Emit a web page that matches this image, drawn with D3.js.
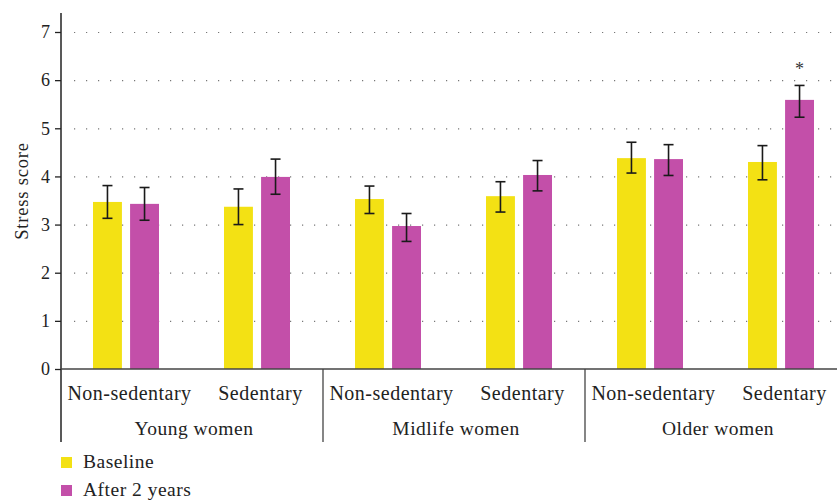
<!DOCTYPE html>
<html>
<head>
<meta charset="utf-8">
<script src="https://d3js.org/d3.v7.min.js"></script>
<style>
  body { margin: 0; background: #fff; }
  svg text { font-family: "Liberation Serif", "DejaVu Serif", serif; }
</style>
</head>
<body>
<div id="chart"></div>
<script>
// groups, subgroups and series
var groups = ["Young women", "Midlife women", "Older women"];
var subgroups = ["Non-sedentary", "Sedentary"];
var series = ["Baseline", "After 2 years"];
var colors = ["#f3e114", "#c34fa9"];

// mean stress scores per group
var baselineNS = [3.47, 3.53, 4.38];
var afterNS    = [3.43, 2.97, 4.36];
var baselineS  = [3.37, 3.59, 4.30];
var afterS     = [3.99, 4.03, 5.59];

// error bar lows / highs
var lowBaselineNS  = [3.13, 3.23, 4.07];
var highBaselineNS = [3.81, 3.80, 4.71];
var lowAfterNS     = [3.09, 2.65, 4.02];
var highAfterNS    = [3.77, 3.23, 4.66];
var lowBaselineS   = [3.00, 3.26, 3.93];
var highBaselineS  = [3.74, 3.89, 4.64];
var lowAfterS      = [3.63, 3.70, 5.23];
var highAfterS     = [4.36, 4.33, 5.89];

var yTicks = [0, 1, 2, 3, 4, 5, 6, 7];

// build a flat table for the bars
var data = [];
groups.forEach(function(g, i) {
    data.push({group: g, sub: "Non-sedentary", series: "Baseline", value: baselineNS[i], lo: lowBaselineNS[i], hi: highBaselineNS[i]});
    data.push({group: g, sub: "Non-sedentary", series: "After 2 years", value: afterNS[i], lo: lowAfterNS[i], hi: highAfterNS[i]});
    data.push({group: g, sub: "Sedentary", series: "Baseline", value: baselineS[i], lo: lowBaselineS[i], hi: highBaselineS[i]});
    data.push({group: g, sub: "Sedentary", series: "After 2 years", value: afterS[i], lo: lowAfterS[i], hi: highAfterS[i], star: g == "Older women"});
});

var W = 837, H = 500;
var margin = {top: 13, left: 61};
var plotRight = 847, plotBottom = 369;

var svg = d3.select("#chart").append("svg")
    .attr("width", W)
    .attr("height", H);

var x0 = d3.scaleBand().domain(groups).range([margin.left, plotRight]);
var x1 = d3.scaleBand().domain(subgroups).range([0, x0.bandwidth()]);
var x2 = d3.scaleBand().domain(series).range([32, 98]).paddingInner(0.22);
var y = d3.scaleLinear().domain([0, 7]).range([plotBottom, 32]);
var color = d3.scaleOrdinal().domain(series).range(colors);

// dotted gridlines
svg.append("g")
    .selectAll("line")
    .data(yTicks.slice(1))
    .enter().append("line")
    .attr("x1", margin.left + 13)
    .attr("x2", plotRight)
    .attr("y1", function(d) { return y(d) + 0.5; })
    .attr("y2", function(d) { return y(d) + 0.5; })
    .attr("stroke", "#777")
    .attr("stroke-width", 1.2)
    .attr("stroke-dasharray", "1.2,10.8");

// bars
function barX(d) { return x0(d.group) + x1(d.sub) + x2(d.series); }

svg.append("g")
    .selectAll("rect")
    .data(data)
    .enter().append("rect")
    .attr("x", barX)
    .attr("y", function(d) { return y(d.value); })
    .attr("width", x2.bandwidth())
    .attr("height", function(d) { return y(0) - y(d.value); })
    .attr("fill", function(d) { return color(d.series); });

// error bars
var eb = svg.append("g")
    .attr("stroke", "#1a1a1a")
    .attr("stroke-width", 1.6)
    .selectAll("g")
    .data(data)
    .enter().append("g")
    .attr("transform", function(d) { return "translate(" + (barX(d) + x2.bandwidth() / 2) + ",0)"; });
eb.append("line")
    .attr("y1", function(d) { return y(d.lo); })
    .attr("y2", function(d) { return y(d.hi); });
eb.append("line")
    .attr("x1", -5).attr("x2", 5)
    .attr("y1", function(d) { return y(d.lo); })
    .attr("y2", function(d) { return y(d.lo); });
eb.append("line")
    .attr("x1", -5).attr("x2", 5)
    .attr("y1", function(d) { return y(d.hi); })
    .attr("y2", function(d) { return y(d.hi); });

// significance mark
svg.append("g")
    .selectAll("text")
    .data(data.filter(function(d) { return d.star; }))
    .enter().append("text")
    .attr("x", function(d) { return barX(d) + x2.bandwidth() / 2; })
    .attr("y", function(d) { return y(d.hi) - 10; })
    .attr("text-anchor", "middle")
    .style("font-size", "18px")
    .attr("fill", "#333")
    .text("*");

// y axis
var yAxis = svg.append("g")
    .attr("transform", "translate(" + margin.left + ",0)")
    .call(d3.axisLeft(y).tickValues(yTicks).tickFormat(d3.format("d")).tickSize(6).tickPadding(5));
yAxis.attr("font-family", null).attr("font-size", null);
yAxis.select(".domain").remove();
yAxis.selectAll(".tick line").attr("stroke", "#222").attr("stroke-width", 1.3);
yAxis.selectAll("text").style("font-size", "18px").attr("fill", "#222");
svg.append("line")
    .attr("x1", margin.left).attr("x2", margin.left)
    .attr("y1", margin.top).attr("y2", 442)
    .attr("stroke", "#222").attr("stroke-width", 1.5);

// x axis baseline
svg.append("line")
    .attr("x1", margin.left).attr("x2", plotRight)
    .attr("y1", plotBottom).attr("y2", plotBottom)
    .attr("stroke", "#444").attr("stroke-width", 1.5);

// group dividers
svg.append("g")
    .selectAll("line")
    .data(groups.slice(1))
    .enter().append("line")
    .attr("x1", function(d) { return x0(d); })
    .attr("x2", function(d) { return x0(d); })
    .attr("y1", plotBottom).attr("y2", 442)
    .attr("stroke", "#444").attr("stroke-width", 1.3);

// subgroup labels
var subLabels = [];
groups.forEach(function(g) { subgroups.forEach(function(s) { subLabels.push({group: g, sub: s}); }); });
svg.append("g")
    .selectAll("text")
    .data(subLabels)
    .enter().append("text")
    .attr("x", function(d) { return x0(d.group) + x1(d.sub) + x1.bandwidth() / 2 + 3; })
    .attr("y", 400)
    .attr("text-anchor", "middle")
    .style("font-size", "20px")
    .style("letter-spacing", "0.5px")
    .attr("fill", "#222")
    .text(function(d) { return d.sub; });

// group labels
svg.append("g")
    .selectAll("text")
    .data(groups)
    .enter().append("text")
    .attr("x", function(d) { return x0(d) + x0.bandwidth() / 2 + 2; })
    .attr("y", 435)
    .attr("text-anchor", "middle")
    .style("font-size", "19.5px")
    .style("letter-spacing", "0.5px")
    .attr("fill", "#222")
    .text(function(d) { return d; });

// y label
svg.append("text")
    .attr("transform", "translate(28,191) rotate(-90)")
    .attr("text-anchor", "middle")
    .style("font-size", "18.5px")
    .style("letter-spacing", "0.8px")
    .attr("fill", "#222")
    .text("Stress score");

// legend
var legend = svg.selectAll(".legend")
    .data(series)
    .enter().append("g")
    .attr("class", "legend")
    .attr("transform", function(d, i) { return "translate(61," + (457 + i * 28) + ")"; });
legend.append("rect")
    .attr("width", 11)
    .attr("height", 11)
    .attr("fill", function(d) { return color(d); });
legend.append("text")
    .attr("x", 22)
    .attr("y", 11)
    .style("font-size", "19.5px")
    .style("letter-spacing", "0.5px")
    .attr("fill", "#222")
    .text(function(d) { return d; });
</script>
</body>
</html>
